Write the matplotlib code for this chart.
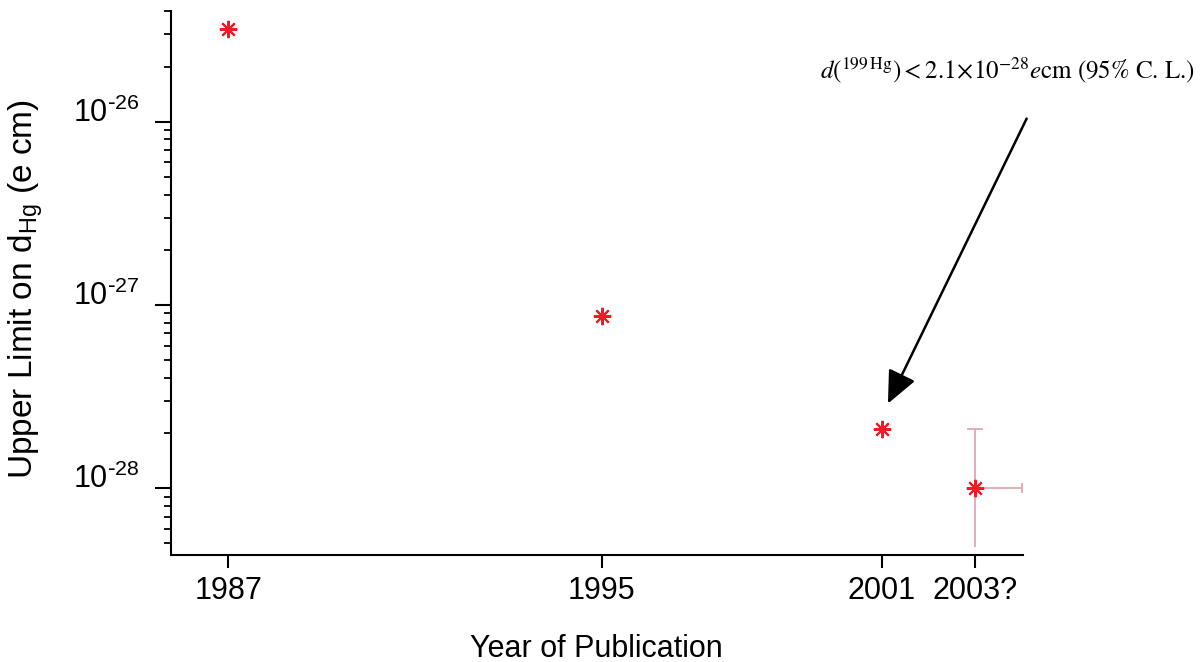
import matplotlib
matplotlib.use("Agg")
import matplotlib.pyplot as plt
from matplotlib.ticker import FixedLocator, FixedFormatter, LogLocator, NullFormatter

# upper limits on the 199Hg EDM, by year of publication
years = [1987, 1995, 2001, 2003]
year_labels = ["1987", "1995", "2001", "2003?"]
limits = [3.2e-26, 8.7e-28, 2.1e-28, 1.0e-28]

# the projected 2003 point carries asymmetric error bars
proj_yerr_low = [0.52e-28]
proj_yerr_high = [1.1e-28]
proj_xerr_high = [1.0]

y_major = [1e-28, 1e-27, 1e-26]
y_major_labels = [r"$\mathdefault{10^{\text{-}28}}$",
                  r"$\mathdefault{10^{\text{-}27}}$",
                  r"$\mathdefault{10^{\text{-}26}}$"]
y_range = (4.31e-29, 4.02e-26)
x_range = (1985.77, 2004.02)

RED = "#ee1c25"
PINK = "#dda9b3"

plt.rcParams["font.family"] = ["Liberation Sans", "DejaVu Sans"]
plt.rcParams["axes.unicode_minus"] = False

fig = plt.figure(figsize=(12.02, 6.62), dpi=100)
ax = fig.add_axes([0.142, 0.1612, 0.709, 0.8222])

# error bars for the projected point (upper with cap, lower open, x to the right)
ax.errorbar(years[-1], limits[-1], yerr=[[0], proj_yerr_high], fmt="none",
            ecolor=PINK, elinewidth=1.3, capsize=6, capthick=1.3, zorder=2)
ax.errorbar(years[-1], limits[-1], yerr=[proj_yerr_low, [0]], fmt="none",
            ecolor=PINK, elinewidth=1.3, capsize=0, zorder=2)
ax.errorbar(years[-1], limits[-1], xerr=[[0], proj_xerr_high], fmt="none",
            ecolor=PINK, elinewidth=1.3, capsize=3.5, capthick=1.3, zorder=2)

ax.plot(years, limits, linestyle="none", marker=(8, 2, 0), markersize=12.5,
        markeredgewidth=1.5, color=RED, zorder=3)

ax.set_yscale("log")
ax.set_ylim(*y_range)
ax.set_xlim(*x_range)

ax.yaxis.set_major_locator(FixedLocator(y_major))
ax.yaxis.set_major_formatter(FixedFormatter(y_major_labels))
ax.yaxis.set_minor_locator(LogLocator(base=10, subs=range(2, 10), numticks=20))
ax.yaxis.set_minor_formatter(NullFormatter())
ax.xaxis.set_major_locator(FixedLocator(years))
ax.xaxis.set_major_formatter(FixedFormatter(year_labels))

for side in ("top", "right"):
    ax.spines[side].set_visible(False)
for side in ("left", "bottom"):
    ax.spines[side].set_linewidth(1.5)

ax.tick_params(axis="y", which="major", length=11.5, width=1.5, labelsize=22, pad=11)
ax.tick_params(axis="y", which="minor", length=5, width=1.3)
ax.tick_params(axis="x", which="major", length=9.7, width=1.5, labelsize=22, pad=5)

fig.canvas.draw()
for lab in ax.get_yticklabels():
    lab.set_verticalalignment("baseline")

ax.set_xlabel("Year of Publication", fontsize=22)
ax.xaxis.set_label_coords(0.5, -0.145)
ax.set_ylabel(r"Upper Limit on d$_{\mathdefault{Hg}}$ (e cm)", fontsize=24)
ax.yaxis.set_label_coords(-0.147, 0.49)

# annotation pointing at the 2001 result
ax.annotate("", xy=(2001.13, 2.9e-28), xytext=(2004.1, 1.04e-26),
            arrowprops=dict(arrowstyle="-|>,head_length=2.0,head_width=0.9",
                            color="black", lw=1.8, shrinkA=0, shrinkB=0),
            annotation_clip=False)
ax.text(2003.7, 1.91e-26,
        r"$d\left(^{199\,\mathrm{Hg}}\right) < 2.1\!\times\!10^{-28}e\mathrm{cm}$ (95% C. L.)",
        fontsize=18, family="STIXGeneral", math_fontfamily="stix",
        ha="center", va="center", clip_on=False)

fig.savefig("out.png", dpi=100)
